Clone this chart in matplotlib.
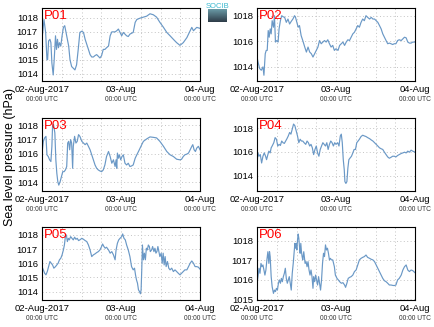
import numpy as np
import matplotlib
matplotlib.use('Agg')
import matplotlib.pyplot as plt
import matplotlib.dates as mdates
from matplotlib.transforms import blended_transform_factory

plt.rcParams['font.family'] = ['Liberation Sans', 'DejaVu Sans']

# (hours since 02-Aug-2017 00:00 UTC, sea level pressure hPa)
p01 = [(0.0, 1016.47), (0.6, 1017.88), (1.1, 1016.96), (1.5, 1015.02), (1.7, 1015.02), (2.0, 1016.35),
       (2.4, 1016.47), (2.7, 1016.23), (3.0, 1014.78), (3.4, 1013.93), (3.7, 1015.02), (4.1, 1016.72),
       (4.4, 1015.75), (4.7, 1016.47), (5.0, 1015.87), (5.3, 1016.23), (5.7, 1015.99), (6.1, 1016.72),
       (6.5, 1017.32), (6.9, 1017.44), (7.3, 1016.96), (7.7, 1016.47), (8.1, 1015.99), (8.5, 1015.02),
       (9.0, 1014.53), (9.5, 1014.41), (10.0, 1014.29), (10.5, 1014.65), (11.0, 1015.75), (11.5, 1016.96),
       (12.1, 1017.05), (12.6, 1016.96), (13.1, 1016.47), (13.6, 1016.11), (14.1, 1015.75), (14.6, 1015.38),
       (15.1, 1015.21), (15.6, 1015.21), (16.1, 1015.31), (16.6, 1015.38), (17.1, 1015.26), (17.6, 1015.14),
       (18.1, 1015.31), (18.6, 1015.75), (19.1, 1015.75), (19.6, 1015.87), (20.2, 1015.99), (20.7, 1016.72),
       (21.2, 1017.0), (22.2, 1017.0), (22.7, 1017.08), (23.2, 1017.2), (23.7, 1016.96), (24.2, 1016.72),
       (24.7, 1016.96), (25.2, 1016.84), (25.7, 1016.72), (26.2, 1016.67), (26.7, 1016.84), (27.7, 1016.96),
       (28.3, 1017.68), (28.8, 1017.88), (29.8, 1017.98), (30.8, 1018.05), (31.8, 1018.12), (32.8, 1018.29),
       (33.8, 1018.22), (34.8, 1018.05), (35.8, 1017.68), (36.9, 1017.32), (37.9, 1016.96), (38.9, 1016.72),
       (39.9, 1016.47), (40.9, 1016.23), (41.9, 1016.04), (42.9, 1016.23), (44.0, 1016.59), (45.0, 1017.08),
       (45.5, 1017.32), (46.0, 1017.08), (46.5, 1017.2), (47.0, 1017.32), (48.0, 1017.25)]

p02 = [(0.0, 1014.77), (0.3, 1014.39), (0.8, 1013.87), (1.3, 1013.74), (1.8, 1014.0), (2.1, 1013.35),
       (2.5, 1015.03), (2.8, 1015.29), (3.1, 1015.29), (3.4, 1016.84), (3.7, 1016.32), (4.0, 1016.97),
       (4.3, 1016.58), (4.6, 1017.61), (5.0, 1017.10), (5.3, 1018.0), (5.6, 1015.94), (6.0, 1016.06),
       (6.4, 1015.94), (6.7, 1016.97), (7.1, 1017.61), (7.5, 1018.0), (7.9, 1017.92), (8.4, 1017.87),
       (8.9, 1017.48), (9.4, 1017.74), (9.9, 1017.35), (10.4, 1017.56), (10.9, 1017.74), (11.4, 1018.0),
       (11.7, 1017.87), (12.1, 1017.48), (12.5, 1017.10), (12.9, 1017.23), (13.4, 1016.45), (13.9, 1016.06),
       (14.5, 1015.55), (15.0, 1015.16), (15.5, 1015.55), (16.0, 1015.16), (16.5, 1015.03), (17.0, 1014.77),
       (17.5, 1015.03), (18.0, 1015.29), (18.5, 1015.55), (19.0, 1016.06), (19.5, 1015.81), (20.0, 1015.94),
       (20.5, 1016.06), (21.0, 1015.94), (21.5, 1016.12), (22.0, 1015.81), (22.5, 1015.55), (23.0, 1015.68),
       (23.5, 1015.29), (24.0, 1015.42), (24.6, 1015.29), (25.1, 1015.68), (25.6, 1015.81), (26.1, 1015.94),
       (26.6, 1015.68), (27.1, 1015.94), (27.6, 1016.12), (28.1, 1016.06), (28.6, 1016.32), (29.1, 1016.58),
       (29.6, 1016.71), (30.1, 1016.97), (30.6, 1017.23), (31.1, 1017.10), (31.6, 1017.48), (32.1, 1017.74),
       (32.6, 1017.61), (33.1, 1018.0), (33.6, 1017.87), (34.2, 1017.74), (34.7, 1017.87), (35.2, 1017.74),
       (35.7, 1017.74), (36.2, 1017.61), (36.7, 1017.48), (37.2, 1017.23), (37.7, 1016.97), (38.2, 1016.58),
       (38.7, 1016.32), (39.2, 1016.06), (39.7, 1015.81), (40.2, 1015.86), (40.7, 1015.81), (41.2, 1015.75),
       (41.7, 1015.81), (42.2, 1015.81), (42.7, 1016.06), (43.2, 1016.12), (43.8, 1016.06), (44.3, 1016.19),
       (44.8, 1016.32), (45.3, 1016.27), (45.8, 1015.94), (46.3, 1015.86), (46.8, 1015.86), (47.3, 1015.94),
       (48.0, 1015.94)]

p03 = [(0.0, 1016.05), (0.4, 1016.87), (0.8, 1017.11), (1.2, 1017.22), (1.5, 1015.93), (1.9, 1015.81),
       (2.3, 1015.58), (2.7, 1015.46), (3.0, 1016.52), (3.2, 1017.93), (3.5, 1018.05), (3.9, 1017.46),
       (4.2, 1015.58), (4.5, 1014.64), (4.8, 1014.05), (5.1, 1013.81), (5.5, 1014.05), (5.9, 1014.4),
       (6.3, 1014.75), (6.7, 1014.75), (7.1, 1014.87), (7.5, 1015.11), (7.8, 1016.75), (8.1, 1016.87),
       (8.4, 1016.28), (8.7, 1016.99), (9.0, 1016.75), (9.3, 1014.99), (9.5, 1016.52), (9.9, 1017.22),
       (10.3, 1016.75), (10.7, 1016.87), (11.1, 1017.34), (11.5, 1017.22), (12.1, 1016.87), (12.6, 1016.75),
       (13.1, 1016.64), (13.6, 1016.75), (14.1, 1016.52), (14.6, 1016.28), (15.1, 1015.93), (15.6, 1015.58),
       (16.1, 1015.22), (16.6, 1014.99), (17.1, 1014.87), (17.6, 1014.8), (18.1, 1014.75), (18.6, 1014.87),
       (19.1, 1015.22), (19.6, 1015.81), (20.2, 1016.16), (20.7, 1015.81), (21.2, 1015.34), (21.7, 1015.58),
       (22.2, 1015.11), (22.5, 1015.58), (22.7, 1014.99), (22.9, 1016.05), (23.2, 1015.69), (23.5, 1015.93),
       (23.9, 1015.58), (24.3, 1015.81), (24.7, 1015.93), (25.2, 1015.34), (25.7, 1015.22), (26.2, 1015.34),
       (26.7, 1015.11), (27.2, 1015.15), (27.7, 1015.22), (28.3, 1015.69), (28.8, 1015.93), (29.3, 1016.16),
       (29.8, 1016.4), (30.3, 1016.64), (30.8, 1016.87), (31.8, 1017.04), (32.8, 1017.18), (33.8, 1017.15),
       (34.8, 1017.11), (35.8, 1016.87), (36.9, 1016.52), (37.9, 1016.16), (38.9, 1015.93), (39.9, 1015.81),
       (40.9, 1015.62), (41.9, 1015.58), (42.4, 1015.62), (42.9, 1015.81), (43.4, 1015.93), (44.0, 1015.98),
       (44.5, 1016.05), (45.0, 1016.28), (45.5, 1016.52), (45.8, 1016.64), (46.2, 1016.28), (46.6, 1016.16),
       (47.0, 1016.4), (47.5, 1016.52), (48.0, 1016.28)]

p04 = [(0.0, 1015.06), (0.3, 1015.91), (0.6, 1015.63), (1.0, 1015.77), (1.4, 1015.06), (1.8, 1015.63),
       (2.2, 1015.91), (2.6, 1015.63), (2.9, 1015.34), (3.3, 1015.77), (3.6, 1016.06), (4.0, 1015.91),
       (4.3, 1016.34), (4.6, 1016.49), (5.1, 1016.77), (5.5, 1017.2), (5.9, 1017.06), (6.3, 1016.49),
       (6.7, 1016.63), (7.1, 1016.54), (7.5, 1016.91), (7.9, 1016.77), (8.3, 1016.71), (8.7, 1016.91),
       (9.1, 1017.11), (9.5, 1017.34), (9.9, 1017.63), (10.3, 1017.49), (10.7, 1017.91), (11.1, 1018.34),
       (11.5, 1018.2), (11.9, 1017.77), (12.3, 1017.34), (12.7, 1016.77), (13.1, 1017.06), (13.5, 1016.91),
       (13.9, 1016.91), (14.3, 1016.77), (14.8, 1016.63), (15.2, 1016.91), (15.6, 1016.77), (16.0, 1016.49),
       (16.4, 1016.63), (16.8, 1016.34), (17.2, 1015.77), (17.6, 1016.2), (18.0, 1016.49), (18.4, 1015.91),
       (18.8, 1015.63), (19.2, 1016.2), (19.6, 1016.49), (20.0, 1016.77), (20.4, 1016.63), (20.8, 1016.49),
       (21.2, 1016.77), (21.6, 1016.2), (22.0, 1016.63), (22.4, 1016.91), (22.8, 1016.77), (23.2, 1016.49),
       (23.6, 1016.77), (24.0, 1016.63), (24.5, 1016.77), (24.9, 1016.49), (25.3, 1017.34), (25.6, 1017.49),
       (25.9, 1016.77), (26.2, 1015.34), (26.5, 1014.49), (26.7, 1013.49), (27.0, 1013.34), (27.3, 1013.49),
       (27.6, 1014.63), (27.9, 1015.34), (28.3, 1015.49), (28.7, 1015.63), (29.1, 1015.91), (29.5, 1016.2),
       (29.9, 1016.2), (30.3, 1016.77), (30.7, 1016.91), (31.1, 1017.06), (31.6, 1017.29), (32.1, 1017.4),
       (32.6, 1017.34), (33.1, 1017.29), (33.6, 1017.2), (34.2, 1017.11), (34.7, 1017.0), (35.2, 1016.91),
       (35.7, 1016.77), (36.2, 1016.63), (36.7, 1016.49), (37.2, 1016.34), (37.7, 1016.26), (38.2, 1016.2),
       (38.7, 1015.97), (39.2, 1015.77), (39.7, 1015.57), (40.2, 1015.46), (40.7, 1015.54), (41.2, 1015.63),
       (41.7, 1015.63), (42.2, 1015.57), (42.7, 1015.69), (43.2, 1015.77), (43.8, 1015.86), (44.3, 1015.91),
       (44.8, 1015.97), (45.3, 1015.91), (45.8, 1016.06), (46.3, 1015.97), (46.8, 1016.14), (47.3, 1016.06),
       (48.0, 1015.97)]

p05 = [(0.0, 1015.76), (0.4, 1015.53), (0.8, 1015.29), (1.2, 1015.18), (1.6, 1015.41), (2.0, 1015.76),
       (2.4, 1016.12), (2.8, 1016.0), (3.2, 1015.88), (3.6, 1015.65), (4.1, 1015.76), (4.5, 1015.88),
       (4.9, 1016.0), (5.3, 1016.24), (5.7, 1016.35), (6.1, 1016.59), (6.5, 1016.94), (6.8, 1017.29),
       (7.1, 1017.88), (7.4, 1018.0), (7.7, 1017.53), (8.0, 1017.76), (8.3, 1017.65), (8.7, 1017.88),
       (9.1, 1017.76), (9.5, 1017.65), (9.9, 1017.84), (10.3, 1017.69), (10.7, 1017.76), (11.1, 1017.6),
       (11.5, 1017.65), (12.1, 1017.76), (12.6, 1017.69), (13.1, 1017.6), (13.6, 1017.53), (14.1, 1017.29),
       (14.6, 1016.94), (15.1, 1016.47), (15.6, 1016.59), (16.1, 1016.66), (16.6, 1016.75), (17.1, 1016.82),
       (17.6, 1016.94), (18.1, 1017.18), (18.4, 1017.36), (18.8, 1017.18), (19.2, 1017.06), (19.6, 1017.13),
       (20.2, 1016.94), (20.7, 1016.71), (21.2, 1016.82), (21.7, 1016.59), (22.2, 1016.24), (22.5, 1016.94),
       (22.9, 1017.41), (23.3, 1017.65), (23.7, 1017.76), (24.2, 1017.88), (24.5, 1018.07), (24.9, 1017.76),
       (25.3, 1017.65), (25.7, 1017.29), (26.2, 1016.94), (26.7, 1016.47), (27.2, 1015.76), (27.7, 1015.53),
       (28.1, 1015.65), (28.4, 1015.18), (28.7, 1014.82), (29.0, 1014.59), (29.3, 1014.12), (29.6, 1014.0),
       (29.9, 1013.84), (30.1, 1014.12), (30.3, 1015.53), (30.5, 1017.29), (30.8, 1016.24), (31.1, 1016.71),
       (31.4, 1016.24), (31.7, 1017.06), (32.0, 1016.94), (32.3, 1017.29), (32.6, 1017.18), (32.9, 1016.82),
       (33.3, 1016.94), (33.6, 1017.18), (34.0, 1016.82), (34.3, 1017.06), (34.6, 1016.71), (34.9, 1016.82),
       (35.2, 1017.18), (35.5, 1016.82), (35.8, 1016.47), (36.2, 1016.71), (36.5, 1016.0), (36.8, 1016.71),
       (37.1, 1015.88), (37.4, 1016.47), (37.7, 1015.76), (38.1, 1016.12), (38.5, 1015.65), (38.9, 1015.53),
       (39.4, 1015.65), (39.9, 1015.41), (40.4, 1015.53), (40.9, 1015.41), (41.4, 1015.29), (41.9, 1015.18),
       (42.4, 1015.29), (42.9, 1015.41), (43.4, 1015.53), (44.0, 1015.53), (44.5, 1015.76), (45.0, 1016.0),
       (45.5, 1016.16), (46.0, 1016.0), (46.5, 1015.76), (47.0, 1015.76), (47.5, 1015.72), (48.0, 1015.58)]

p06 = [(0.0, 1015.81), (0.3, 1016.15), (0.6, 1016.58), (0.9, 1016.32), (1.2, 1016.83), (1.5, 1016.66),
       (1.8, 1016.75), (2.1, 1016.49), (2.4, 1016.23), (2.7, 1016.49), (3.0, 1017.01), (3.3, 1017.43),
       (3.6, 1016.83), (3.8, 1017.43), (4.0, 1017.18), (4.3, 1016.15), (4.6, 1015.63), (5.0, 1015.29),
       (5.3, 1015.46), (5.6, 1015.38), (5.9, 1015.55), (6.2, 1015.46), (6.5, 1015.81), (6.8, 1015.98),
       (7.1, 1015.81), (7.4, 1016.06), (7.7, 1015.89), (8.0, 1016.15), (8.3, 1016.32), (8.6, 1016.58),
       (8.9, 1016.06), (9.2, 1015.81), (9.5, 1015.98), (9.8, 1016.15), (10.1, 1015.81), (10.4, 1015.46),
       (10.7, 1016.32), (11.0, 1016.83), (11.3, 1017.43), (11.5, 1017.86), (11.7, 1017.61), (11.9, 1017.86),
       (12.1, 1017.52), (12.3, 1018.03), (12.5, 1018.34), (12.7, 1018.12), (12.9, 1017.69), (13.1, 1017.35),
       (13.3, 1017.86), (13.5, 1017.43), (13.7, 1017.18), (13.9, 1017.01), (14.2, 1017.43), (14.6, 1016.83),
       (14.9, 1016.92), (15.2, 1016.66), (15.5, 1016.92), (15.8, 1016.49), (16.1, 1016.23), (16.4, 1016.49),
       (16.7, 1016.15), (17.0, 1015.55), (17.2, 1016.15), (17.5, 1015.89), (17.8, 1016.23), (18.1, 1015.98),
       (18.4, 1015.72), (18.7, 1016.15), (19.0, 1015.81), (19.3, 1015.46), (19.6, 1015.98), (19.9, 1016.83),
       (20.2, 1017.35), (20.5, 1017.18), (20.8, 1017.78), (21.1, 1017.52), (21.4, 1017.61), (21.7, 1017.35),
       (22.0, 1017.01), (22.3, 1017.09), (22.6, 1017.01), (23.0, 1017.01), (23.5, 1016.66), (23.8, 1016.23),
       (24.3, 1016.06), (24.7, 1015.98), (25.1, 1015.89), (25.6, 1015.81), (26.1, 1015.84), (26.6, 1015.72),
       (26.9, 1015.6), (27.3, 1015.81), (27.7, 1016.06), (28.1, 1016.11), (28.6, 1016.15), (29.1, 1016.23),
       (29.6, 1016.41), (30.1, 1016.49), (30.6, 1016.75), (31.1, 1017.01), (31.6, 1017.09), (32.1, 1017.14),
       (32.6, 1017.18), (33.1, 1017.26), (33.6, 1017.14), (34.2, 1017.09), (34.7, 1017.04), (35.2, 1017.01),
       (35.7, 1016.92), (36.2, 1016.75), (36.7, 1016.58), (37.2, 1016.41), (37.7, 1016.23), (38.2, 1016.06),
       (38.7, 1015.94), (39.2, 1015.89), (39.7, 1015.81), (40.2, 1015.72), (40.7, 1015.72), (41.2, 1015.7),
       (41.7, 1015.69), (42.2, 1015.72), (42.7, 1015.98), (43.2, 1016.06), (43.8, 1016.23), (44.3, 1016.49),
       (44.8, 1016.66), (45.3, 1016.75), (45.8, 1016.49), (46.3, 1016.41), (46.8, 1016.49), (47.3, 1016.46),
       (48.0, 1016.35)]

stations = ['P01', 'P02', 'P03', 'P04', 'P05', 'P06']
series = [p01, p02, p03, p04, p05, p06]
ylims = [(1013.5, 1018.7), (1012.9, 1018.6), (1013.4, 1018.5),
         (1012.7, 1018.85), (1013.4, 1018.56), (1014.95, 1018.7)]
yticks = [[1014, 1015, 1016, 1017, 1018], [1014, 1016, 1018], [1014, 1015, 1016, 1017, 1018],
          [1014, 1016, 1018], [1014, 1015, 1016, 1017, 1018], [1015, 1016, 1017, 1018]]
xtick_labels = ['02-Aug-2017', '03-Aug', '04-Aug']

t0 = np.datetime64('2017-08-02T00:00')
line_color = '#6a98c6'

fig = plt.figure(figsize=(4.34, 3.27), dpi=100)

lefts = [0.0968, 0.5922]
bottoms = [0.7523, 0.4159, 0.0826]
w, h = 0.3641, 0.2232

for k, (name, data) in enumerate(zip(stations, series)):
    ax = fig.add_axes([lefts[k % 2], bottoms[k // 2], w, h])
    hrs = np.array([p[0] for p in data])
    vals = np.array([p[1] for p in data])
    times = t0 + (hrs * 60).round().astype('timedelta64[m]')
    ax.plot(times, vals, color=line_color, lw=0.85)

    tt = [t0 + np.timedelta64(24 * i, 'h') for i in range(3)]
    ax.set_xlim(tt[0], tt[-1])
    ax.set_ylim(*ylims[k])
    ax.set_yticks(yticks[k])
    ax.set_yticklabels([str(v) for v in yticks[k]], fontsize=6.8)
    ax.set_xticks(tt)
    ax.set_xticklabels(xtick_labels, fontsize=6.8)
    ax.xaxis.set_minor_locator(mdates.HourLocator(byhour=[6, 12, 18]))
    ax.grid(True, which='both', axis='x', color='#c4c4c4', ls=(0, (1, 2.5)), lw=0.7)
    ax.grid(True, which='major', axis='y', color='#c4c4c4', ls=(0, (1, 2.5)), lw=0.7)
    ax.set_axisbelow(True)
    ax.tick_params(which='both', length=0, pad=3)
    for s in ax.spines.values():
        s.set_linewidth(0.8)
        s.set_color('black')

    trans = blended_transform_factory(ax.transData, ax.transAxes)
    for t in tt:
        ax.text(t, -0.21, '00:00 UTC', transform=trans, ha='center', va='top',
                fontsize=4.8, color='#333333')

    ax.text(0.01, 0.975, name, transform=ax.transAxes, ha='left', va='top',
            fontsize=9.5, color='red')

fig.text(0.024, 0.52, 'Sea level pressure (hPa)', rotation=90, ha='center', va='center',
         fontsize=9)

# logo
fig.text(0.5015, 0.99, 'SOCIB', ha='center', va='top', fontsize=5.5, color='#3bb8d0')
lax = fig.add_axes([208 / 434, 1 - 22 / 327, 19 / 434, 13 / 327])
grad = np.linspace(0, 1, 50).reshape(-1, 1)
lax.imshow(grad, aspect='auto', cmap=matplotlib.colors.LinearSegmentedColormap.from_list(
    'logo', ['#6a9aa6', '#2e3c48']))
lax.axis('off')

fig.savefig('out.png', dpi=100)
